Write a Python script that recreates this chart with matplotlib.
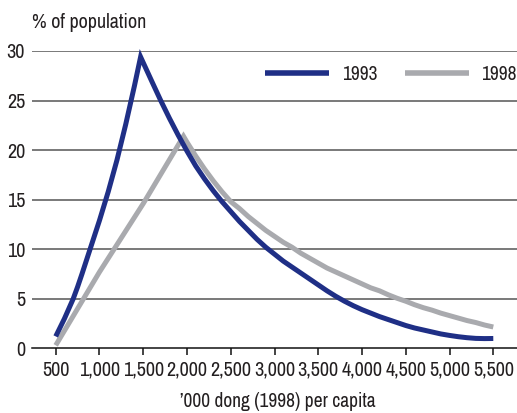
import matplotlib
matplotlib.use("Agg")
import matplotlib.pyplot as plt

# ---- data ----
x_1993 = [500, 600, 650, 700, 750, 800, 900, 1000, 1100, 1200, 1300, 1400, 1470,
          1600, 1700, 1800, 1900, 2000, 2100, 2200, 2300, 2400, 2500, 2600,
          2700, 2800, 2900, 3000, 3100, 3200, 3300, 3400, 3500, 3600, 3700,
          3800, 3900, 4000, 4100, 4200, 4300, 4400, 4500, 4600, 4700, 4800,
          4900, 5000, 5100, 5200, 5300, 5400, 5500]
y_1993 = [1.2, 3.0, 4.0, 5.0, 6.2, 7.5, 10.2, 12.9, 15.8, 19.0, 22.6, 26.5, 29.4,
          26.9, 25.0, 23.2, 21.5, 19.9, 18.4, 17.1, 15.9, 14.8, 13.8, 12.8,
          11.9, 11.0, 10.2, 9.5, 8.8, 8.2, 7.6, 7.0, 6.4, 5.8, 5.25,
          4.75, 4.3, 3.9, 3.55, 3.2, 2.9, 2.6, 2.3, 2.05, 1.85, 1.65,
          1.45, 1.3, 1.17, 1.07, 1.0, 0.98, 0.99]

x_1998 = [500, 1000, 1500, 1960, 2000, 2100, 2200, 2300, 2400, 2500, 2600,
          2700, 2800, 2900, 3000, 3100, 3200, 3300, 3400, 3500, 3600, 3700,
          3800, 3900, 4000, 4100, 4200, 4300, 4400, 4500, 4600, 4700, 4800,
          4900, 5000, 5100, 5200, 5300, 5400, 5500]
y_1998 = [0.3, 7.7, 14.6, 21.4, 20.8, 19.4, 18.1, 16.9, 15.8, 14.8, 14.1,
          13.3, 12.6, 11.9, 11.3, 10.7, 10.2, 9.6, 9.1, 8.6, 8.1, 7.7,
          7.3, 6.9, 6.5, 6.1, 5.8, 5.4, 5.05, 4.75, 4.4, 4.1, 3.85,
          3.55, 3.3, 3.05, 2.8, 2.6, 2.35, 2.15]

series_names = ["1993", "1998"]
x_ticks = [500, 1000, 1500, 2000, 2500, 3000, 3500, 4000, 4500, 5000, 5500]
x_tick_labels = ["500", "1,000", "1,500", "2,000", "2,500", "3,000", "3,500",
                 "4,000", "4,500", "5,000", "5,500"]
y_ticks = [0, 5, 10, 15, 20, 25, 30]

# ---- styling ----
plt.rcParams['font.family'] = ['Archivo Narrow', 'DejaVu Sans']
FS = 14.5
BLUE = "#1f2f86"
GRAY = "#a9aaae"
TXT = "#231f20"

fig = plt.figure(figsize=(5.17, 4.13), dpi=100)
ax = fig.add_axes([32 / 517, 1 - 348.3 / 413, 1 - 32 / 517, (348.3 - 51) / 413])

for yv in y_ticks[1:]:
    ax.axhline(yv, color="#555555", lw=1.1, zorder=1)

ax.plot(x_1993, y_1993, color=BLUE, lw=3.6, solid_capstyle="butt",
        solid_joinstyle="miter", label=series_names[0], clip_on=False, zorder=3)
ax.plot(x_1998, y_1998, color=GRAY, lw=3.6, solid_capstyle="butt",
        solid_joinstyle="miter", label=series_names[1], clip_on=False, zorder=2)

ax.set_xlim(229, 5771)
ax.set_ylim(0, 30)

for s in ["top", "right", "left"]:
    ax.spines[s].set_visible(False)
ax.spines["bottom"].set_color("#111111")
ax.spines["bottom"].set_linewidth(1.1)
ax.spines["bottom"].set_zorder(4)

ax.set_xticks(x_ticks)
ax.set_xticklabels(x_tick_labels)
ax.set_yticks(y_ticks)
ax.tick_params(axis="x", direction="out", length=4.8, width=1.1, color="#111111",
               labelsize=FS, pad=4, labelcolor=TXT)
ax.tick_params(axis="y", length=0, labelsize=FS, pad=5, labelcolor=TXT)

ax.set_xlabel("’000 dong (1998) per capita", fontsize=FS - 0.5, color=TXT,
              va="center")
ax.xaxis.set_label_coords((277.5 - 32) / (517 - 32), (348.3 - 401.5) / (348.3 - 51))
fig.text(32 / 517, 1 - 22 / 413, "% of population", fontsize=FS,
         color=TXT, ha="left", va="center")

leg = ax.legend(loc="center right", bbox_to_anchor=(1.0, 1 - (74 - 51) / (348.3 - 51)),
                ncol=2, frameon=False, fontsize=FS - 0.5, handlelength=3.3,
                handletextpad=0.65, columnspacing=1.4, borderaxespad=0.0,
                borderpad=0.0)
for t in leg.get_texts():
    t.set_color(TXT)
for h in leg.get_lines():
    h.set_linewidth(4.0)

fig.savefig("out.png", dpi=100)
